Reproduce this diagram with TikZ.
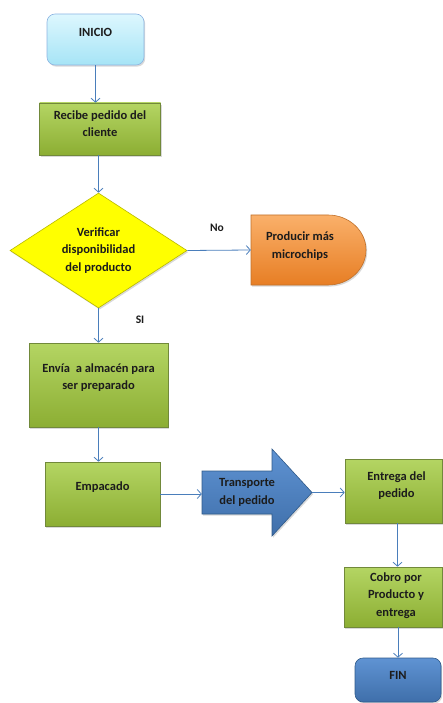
\documentclass[tikz,border=0pt]{standalone}
\usepackage{fontspec}
\setmainfont{Carlito}
\usetikzlibrary{shapes.geometric,arrows.meta,shadows}
\definecolor{txt}{HTML}{1C1C1C}
\definecolor{lineblue}{HTML}{4A7EBB}
\definecolor{gtop}{HTML}{B4D563}
\definecolor{gbot}{HTML}{8CAE33}
\definecolor{gborder}{HTML}{71893A}
\definecolor{ctop}{HTML}{DDF7FE}
\definecolor{cbot}{HTML}{A6E4F6}
\definecolor{cborder}{HTML}{8DB4E2}
\definecolor{ytop}{HTML}{FFFF00}
\definecolor{yborder}{HTML}{B8B800}
\definecolor{otop}{HTML}{FAB06A}
\definecolor{obot}{HTML}{E77E24}
\definecolor{oborder}{HTML}{C0712B}
\definecolor{btop}{HTML}{5F93D3}
\definecolor{bbot}{HTML}{3F6FAA}
\definecolor{bborder}{HTML}{2F5A8A}
\begin{document}
\begin{tikzpicture}[x=1pt,y=-1pt,
  every node/.style={font=\bfseries\fontsize{12.5}{17.5}\selectfont, text=txt, align=center, inner sep=0pt},
  shadowed/.style={drop shadow={shadow xshift=1.2pt, shadow yshift=-1.6pt, opacity=0.3}},
  startbox/.style={rectangle, rounded corners=8pt, draw=cborder, line width=0.6pt, top color=ctop, bottom color=cbot, shadowed},
  greenbox/.style={rectangle, draw=gborder, line width=0.6pt, top color=gtop, bottom color=gbot, shadowed},
  decision/.style={diamond, draw=yborder, line width=0.6pt, fill=ytop, aspect=1.54, shadowed},
  endbox/.style={rectangle, rounded corners=8pt, draw=bborder, line width=0.6pt, top color=btop, bottom color=bbot, shadowed},
  conn/.style={draw=lineblue, line width=0.8pt, -{Straight Barb[length=4pt,width=9pt]}},
  lbl/.style={font=\bfseries\fontsize{11.5}{14}\selectfont}
]
\useasboundingbox (0,0) rectangle (442,703);

% boxes
\node[startbox, minimum width=97pt, minimum height=51pt] (inicio) at (95.5,39.5) {};
\node (tinicio) at ([yshift=7pt]inicio.center) {INICIO};

\node[greenbox, minimum width=121pt, minimum height=52pt] (recibe) at (100,129) {};
\node (trecibe) at ([yshift=5.5pt]recibe.center) {Recibe pedido del\\cliente};

\node[decision, minimum width=177pt, minimum height=115pt] (verif) at (98.5,250.5) {Verificar\\disponibilidad\\del producto};

% delay shape (orange)
\shade[top color=otop, bottom color=obot, draw=oborder, line width=0.6pt, shadowed]
  (251,215) -- (328,215) arc[start angle=-90, end angle=90, x radius=38, y radius=35] -- (251,285) -- cycle;
\node[minimum width=98pt, minimum height=70pt] (producir) at (300,250) {};
\node (tproducir) at ([yshift=4pt]producir.center) {Producir más\\microchips};

\node[greenbox, minimum width=139pt, minimum height=84pt] (envia) at (98.5,385) {};
\node (tenvia) at ([yshift=7.5pt]envia.center) {Envía\ \ a almacén para\\ser preparado};

\node[greenbox, minimum width=115pt, minimum height=64pt] (empacado) at (102.5,494) {};
\node (tempacado) at ([yshift=7pt]empacado.center) {Empacado};

% block arrow (blue)
\shade[top color=btop, bottom color=bbot, draw=bborder, line width=0.6pt, shadowed]
  (202,471) -- (272,471) -- (272,449) -- (312,492.5) -- (272,536) -- (272,514) -- (202,514) -- cycle;
\node[minimum width=90pt, minimum height=43pt] (transporte) at (247,492.5) {Transporte\\del pedido};
\coordinate (tip) at (312,492.5);

\node[greenbox, minimum width=97pt, minimum height=64pt] (entrega) at (393.5,491) {};
\node (tentrega) at ([xshift=3pt,yshift=5.5pt]entrega.center) {Entrega del\\pedido};

\node[greenbox, minimum width=98pt, minimum height=60pt] (cobro) at (393,597) {};
\node (tcobro) at ([xshift=3pt,yshift=1.5pt]cobro.center) {Cobro por\\Producto y\\entrega};

\node[endbox, minimum width=86pt, minimum height=44pt] (fin) at (398,680) {};
\node (tfin) at ([yshift=5pt]fin.center) {FIN};

% labels
\node[lbl] (no) at (217,228) {No};
\node[lbl] (si) at (140,320) {SI};

% connectors
\draw[conn] (inicio.south) -- (inicio.south |- recibe.north);
\draw[conn] (verif.north |- recibe.south) -- (verif.north);
\draw[conn] (verif.east) -- (producir.west);
\draw[conn] (verif.south) -- (envia.north);
\draw[conn] (envia.south) -- (envia.south |- empacado.north);
\draw[conn] (empacado.east) -- (empacado.east -| transporte.west);
\draw[conn] (tip) -- (tip -| entrega.west);
\draw[conn] ([xshift=4pt]entrega.south) -- ([xshift=4pt]entrega.south |- cobro.north);
\draw[conn] (fin.north |- cobro.south) -- (fin.north);
\end{tikzpicture}
\end{document}
